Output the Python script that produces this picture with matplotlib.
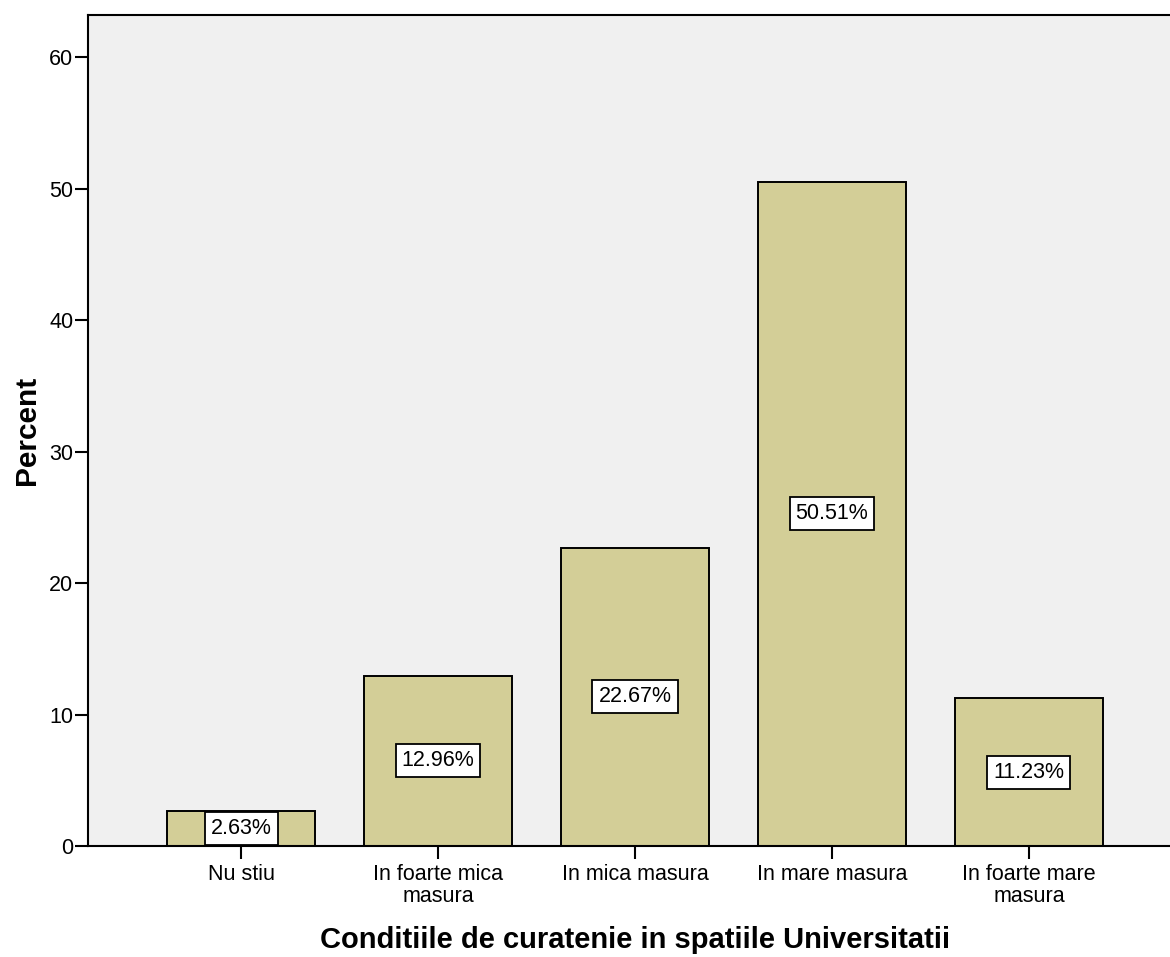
import matplotlib
matplotlib.use("Agg")
import matplotlib.pyplot as plt

categories = ["Nu stiu", "In foarte mica\nmasura", "In mica masura",
              "In mare masura", "In foarte mare\nmasura"]
percent = [2.63, 12.96, 22.67, 50.51, 11.23]
y_ticks = [0, 10, 20, 30, 40, 50, 60]

plt.rcParams['font.family'] = ['Liberation Sans', 'DejaVu Sans']

W, H = 1170, 957
fig = plt.figure(figsize=(W / 100, H / 100), dpi=100)
left, right, top, bottom = 88, 1182, 15, 846
ax = fig.add_axes([left / W, 1 - bottom / H, (right - left) / W, (bottom - top) / H])
ax.set_facecolor('#F0F0F0')

x = list(range(len(categories)))
ax.bar(x, percent, width=0.75, color='#D3CE97', edgecolor='black', linewidth=1.4, zorder=2)

for xi, v in zip(x, percent):
    ax.text(xi, v / 2, f"{v:.2f}%", ha='center', va='center', fontsize=15.5, zorder=3,
            bbox=dict(boxstyle='square,pad=0.28', facecolor='white', edgecolor='black', linewidth=1.3))

ax.set_xlim(-0.777, len(categories) - 1 + 0.777)
ax.set_ylim(0, 63.2)
ax.set_yticks(y_ticks)
ax.set_xticks(x)
ax.set_xticklabels(categories, fontsize=15.5, linespacing=1.05)
ax.tick_params(axis='y', labelsize=15.5, length=9.5, width=1.5, direction='out', pad=1)
ax.tick_params(axis='x', length=9, width=1.5, direction='out', pad=4)

for s in ['left', 'bottom', 'top']:
    ax.spines[s].set_linewidth(1.5)
ax.spines['right'].set_visible(False)

ax.set_ylabel("Percent", fontsize=21.5, fontweight='bold', labelpad=6)
ax.set_xlabel("Conditiile de curatenie in spatiile Universitatii", fontsize=21,
              fontweight='bold', labelpad=14)

fig.savefig("out.png", dpi=100)
